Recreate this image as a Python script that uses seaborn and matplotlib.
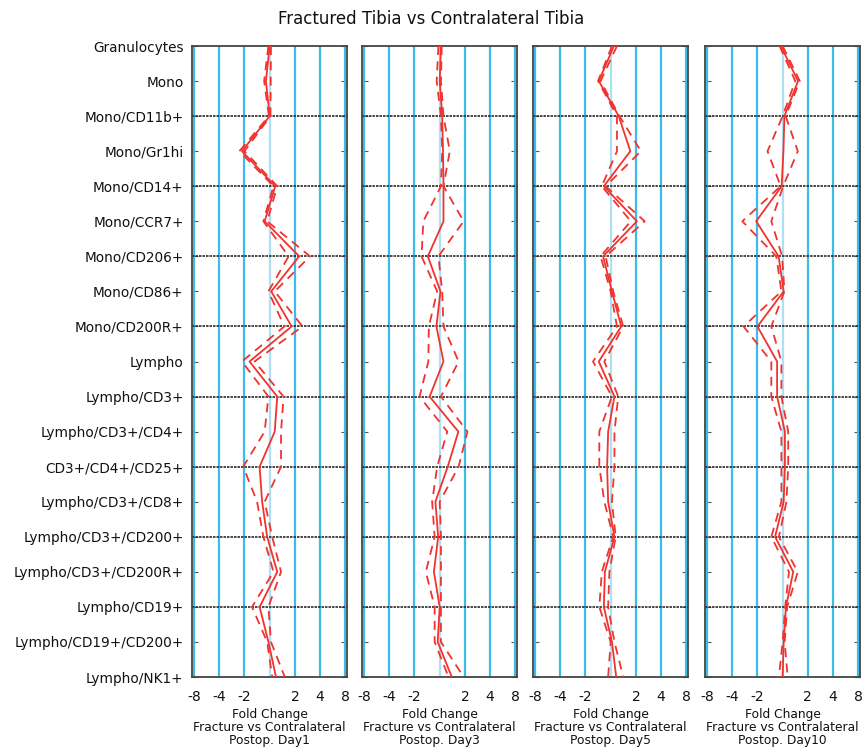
import numpy as np
import pandas as pd
import matplotlib
matplotlib.use("Agg")
import matplotlib.pyplot as plt
import seaborn as sns

categories = ["Granulocytes", "Mono", "Mono/CD11b+", "Mono/Gr1hi", "Mono/CD14+",
              "Mono/CCR7+", "Mono/CD206+", "Mono/CD86+", "Mono/CD200R+", "Lympho",
              "Lympho/CD3+", "Lympho/CD3+/CD4+", "CD3+/CD4+/CD25+", "Lympho/CD3+/CD8+",
              "Lympho/CD3+/CD200+", "Lympho/CD3+/CD200R+", "Lympho/CD19+",
              "Lympho/CD19+/CD200+", "Lympho/NK1+"]

panel_titles = ["Postop. Day1", "Postop. Day3", "Postop. Day5", "Postop. Day10"]

# log2 fold change values (mean, lower CI, upper CI) per panel
day1_mean = [0.0, -0.15, 0.0, -1.1, 0.22, -0.2, 1.17, 0.06, 0.87, -0.8,
             0.3, 0.2, -0.4, -0.3, -0.1, 0.3, -0.4, -0.05, 0.25]
day1_lo = [-0.05, -0.22, -0.03, -1.2, 0.15, -0.25, 0.75, -0.05, 0.58, -1.1,
           -0.05, -0.2, -1.05, -0.5, -0.25, 0.15, -0.7, -0.1, 0.1]
day1_hi = [0.05, 0.04, 0.03, -1.0, 0.3, -0.1, 1.6, 0.2, 1.3, -0.6,
           0.55, 0.45, 0.45, -0.2, 0.1, 0.45, -0.05, 0.05, 0.6]

day3_mean = [0.05, 0.0, 0.1, 0.13, 0.15, 0.15, -0.47, 0.03, -0.13, 0.15,
             -0.4, 0.74, 0.32, -0.17, -0.06, -0.23, 0.0, -0.08, 0.48]
day3_lo = [-0.05, -0.12, 0.05, 0.1, 0.05, -0.65, -0.72, -0.1, -0.43, -0.45,
           -0.8, 0.3, -0.1, -0.3, -0.2, -0.55, -0.2, -0.2, 0.35]
day3_hi = [0.08, 0.05, 0.15, 0.4, 0.15, 0.95, -0.05, 0.1, 0.15, 0.75,
           0.05, 1.1, 0.75, 0.0, 0.05, 0.05, 0.05, 0.05, 0.95]

day5_mean = [0.13, -0.47, 0.32, 0.78, -0.27, 1.04, -0.3, 0.05, 0.42, -0.47,
             0.15, -0.1, -0.14, -0.1, 0.15, -0.23, -0.27, 0.05, 0.22]
day5_lo = [0.05, -0.5, 0.25, 0.25, -0.35, 0.8, -0.4, 0.0, 0.25, -0.7,
           0.05, -0.45, -0.45, -0.25, 0.1, -0.35, -0.45, 0.0, -0.1]
day5_hi = [0.25, -0.4, 0.35, 1.2, -0.2, 1.35, -0.2, 0.1, 0.5, -0.25,
           0.3, 0.15, 0.15, 0.05, 0.2, -0.05, -0.1, 0.15, 0.5]

day10_mean = [-0.07, 0.61, 0.07, 0.03, -0.04, -1.05, -0.16, 0.04, -1.0, -0.22,
              -0.22, 0.09, 0.09, 0.04, -0.3, 0.42, 0.13, 0.04, 0.0]
day10_lo = [-0.12, 0.5, 0.0, -0.6, -0.08, -1.6, -0.25, -0.05, -1.55, -0.45,
            -0.45, -0.05, -0.05, -0.05, -0.45, 0.25, 0.1, 0.0, -0.15]
day10_hi = [0.0, 0.68, 0.12, 0.6, 0.02, -0.45, -0.02, 0.07, -0.45, -0.05,
            -0.05, 0.22, 0.22, 0.15, -0.15, 0.6, 0.18, 0.08, 0.2]

x_ticks = [-3, -2, -1, 0, 1, 2, 3]
x_ticklabels = ["-8", "-4", "-2", "", "2", "4", "8"]

panels = [(day1_mean, day1_lo, day1_hi), (day3_mean, day3_lo, day3_hi),
          (day5_mean, day5_lo, day5_hi), (day10_mean, day10_lo, day10_hi)]

sns.set_theme(style="white")
plt.rcParams['font.family'] = ['DejaVu Sans']

fig = plt.figure(figsize=(8.63, 7.48), dpi=100)
lefts = [0.2225, 0.4195, 0.6176, 0.8169]
width = 0.1800
bottom = 0.0949
height = 0.9385 - 0.0949

red = "#f0332f"
pos = np.arange(len(categories))

for k, (mean, lo, hi) in enumerate(panels):
    ax = fig.add_axes([lefts[k], bottom, width, height])
    for xv in x_ticks:
        ax.axvline(xv, color="#aee0f5" if xv == 0 else "#3cbde9", lw=1.6, zorder=1)
    for i in range(2, len(categories) - 1, 2):
        ax.axhline(i, color="#2a2a2a", lw=1.2, ls=(0, (1.5, 0.6)), zorder=1.5)
    df = pd.DataFrame({"pos": np.concatenate([pos, pos, pos]),
                       "fc": np.concatenate([mean, lo, hi]),
                       "kind": ["mean"] * len(pos) + ["lo"] * len(pos) + ["hi"] * len(pos)})
    sns.lineplot(data=df[df.kind == "mean"], x="fc", y="pos", sort=False, orient="y",
                 estimator=None, color=red, lw=1.3, ax=ax, zorder=3)
    for kd in ["lo", "hi"]:
        sns.lineplot(data=df[df.kind == kd], x="fc", y="pos", sort=False, orient="y",
                     estimator=None, color=red, lw=1.3, ax=ax, zorder=3,
                     linestyle=(0, (5, 3.5)))
    ax.set_xlim(-3.08, 3.08)
    ax.set_ylim(len(categories) - 1, 0)
    ax.set_xticks(x_ticks)
    ax.set_xticklabels(x_ticklabels, fontsize=10, color="#111111")
    ax.set_yticks(pos)
    if k == 0:
        ax.set_yticklabels(categories, fontsize=9.8, color="#111111")
    else:
        ax.set_yticklabels([])
    ax.tick_params(axis="y", which="both", left=True, right=True, direction="in",
                   length=4, width=0.8, color="#555555", pad=6)
    ax.tick_params(axis="x", bottom=False, pad=3)
    ax.set_ylabel("")
    ax.set_xlabel("Fold Change\nFracture vs Contralateral\n" + panel_titles[k],
                  fontsize=8.8, color="#111111", labelpad=3, linespacing=1.0)
    for sp in ax.spines.values():
        sp.set_color("#444444")
        sp.set_linewidth(1.3)
        sp.set_visible(True)

fig.text(0.5, 0.975, "Fractured Tibia vs Contralateral Tibia", ha="center", va="center",
         fontsize=12, color="#111111")

fig.savefig("out.png", dpi=100)
